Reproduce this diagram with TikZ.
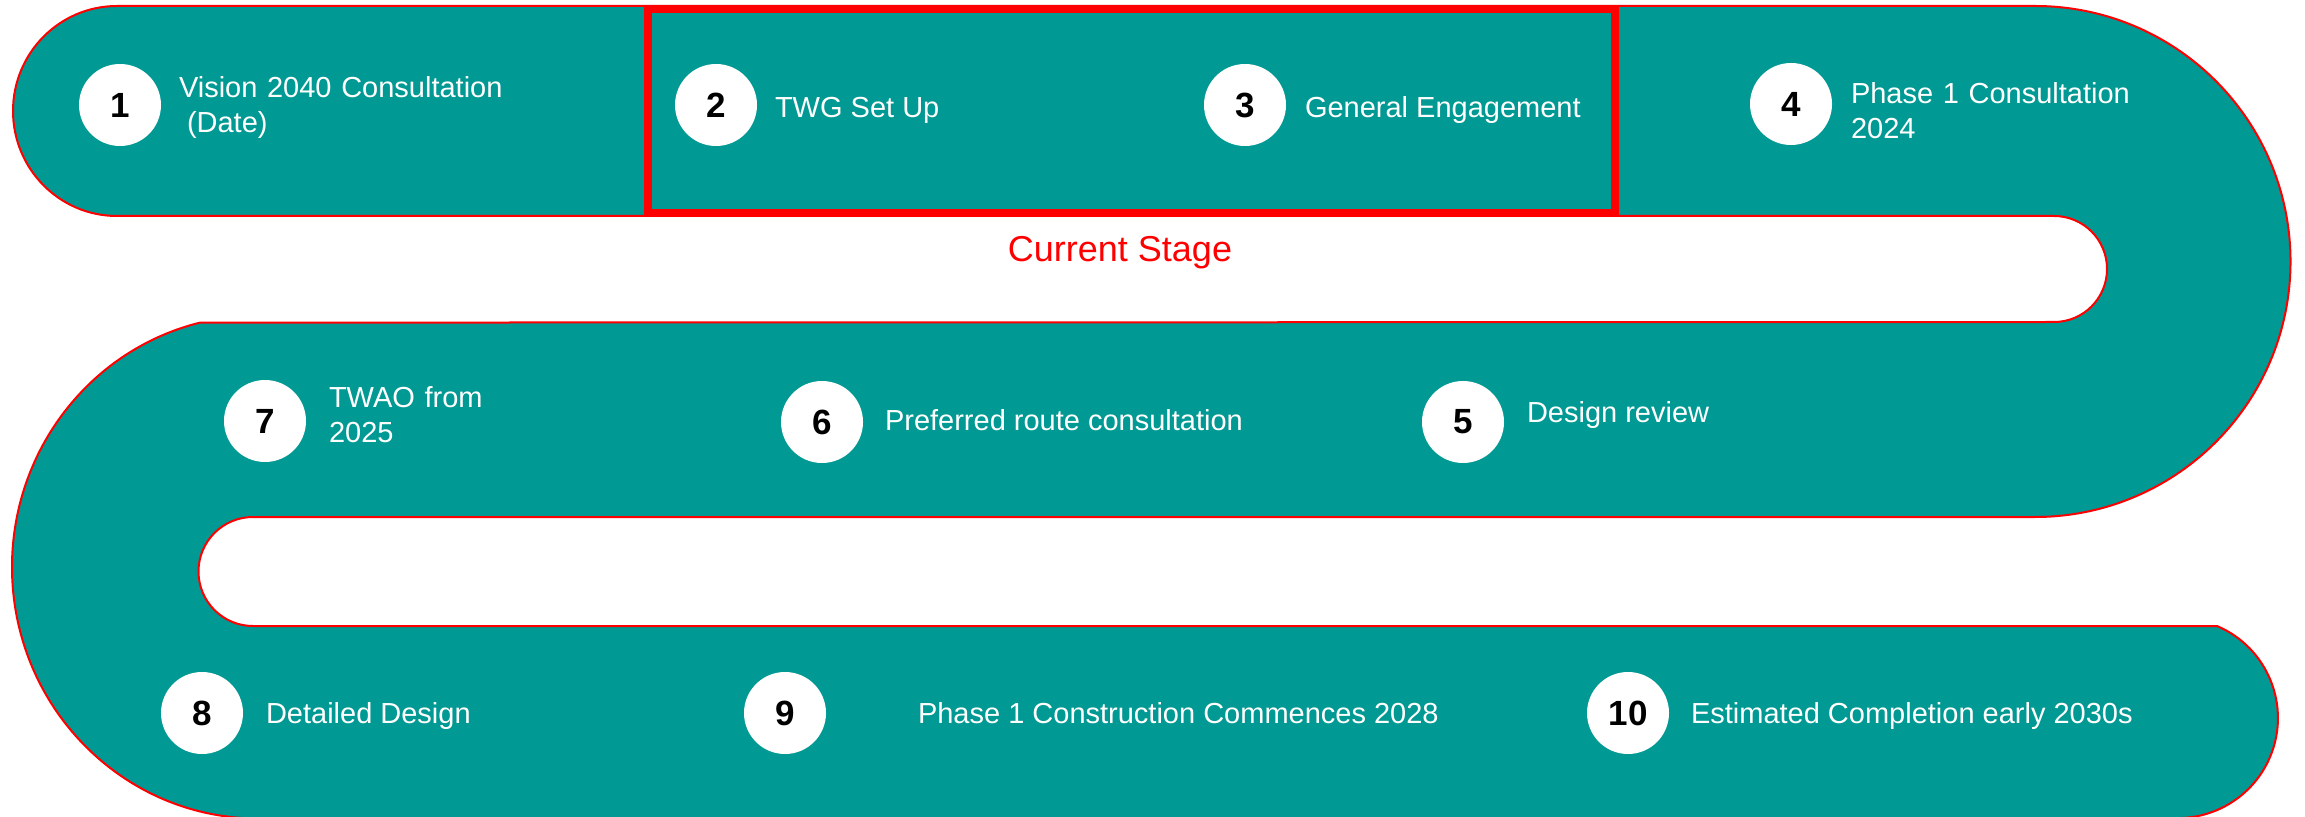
\documentclass[tikz,border=0pt]{standalone}
\usepackage{fontspec}
\setmainfont{Liberation Sans}
\definecolor{snake}{RGB}{0,153,147}
\definecolor{hot}{RGB}{255,0,0}
\begin{document}
\begin{tikzpicture}[x=0.5pt,y=-0.5pt,
  band/.style={fill=snake, draw=hot, line width=1pt, line join=round},
  num/.style={circle, fill=white, minimum size=41pt, inner sep=0pt,
    font=\fontsize{17.5}{20}\selectfont\bfseries, text=black},
  lbl/.style={anchor=base west, inner sep=0pt, outer sep=0pt, text=white,
    font=\fontsize{14.5}{17.5}\selectfont},
  lbltwo/.style={lbl, text width=300pt, align=left},
  stagebox/.style={draw=hot, line width=4pt},
  stagelbl/.style={anchor=base, inner sep=0pt, text=hot, font=\fontsize{18}{22}\selectfont}]
\useasboundingbox (0,0) rectangle (2305,817);
% snake-shaped band
\path[band] (117,6) -- (2035,6) arc[start angle=270, end angle=450, radius=255.5]
  -- (253,517) arc[start angle=270, end angle=90, radius=54.5]
  -- (2217,626) arc[start angle=293, end angle=450, radius=100]
  -- (258,818.5) arc[start angle=90, end angle=256.36, x radius=246, y radius=251.5]
  -- (2054,322) arc[start angle=90, end angle=-90, radius=53]
  -- (117,216) arc[start angle=90, end angle=270, x radius=104, y radius=105] -- cycle;
% current stage frame
\draw[stagebox] (648,9) rectangle (1615,213);
\node[stagelbl] (cs) at (1120,262) {Current Stage};
% row 1
\node[num] (c1) at (120,105) {1};
\node[lbltwo] (t1) at (179,98) {Vision 2040 Consultation\\\hspace*{4pt}(Date)};
\node[num] (c2) at (716,105) {2};
\node[lbl] (t2) at (775,118) {TWG Set Up};
\node[num] (c3) at (1245,105) {3};
\node[lbl] (t3) at (1305,118) {General Engagement};
\node[num] (c4) at (1791,104) {4};
\node[lbltwo] (t4) at (1851,104) {Phase 1 Consultation\\2024};
% row 2
\node[num] (c7) at (265,421) {7};
\node[lbltwo] (t7) at (329,408) {TWAO from\\2025};
\node[num] (c6) at (822,422) {6};
\node[lbl] (t6) at (885,430) {Preferred route consultation};
\node[num] (c5) at (1463,422) {5};
\node[lbl] (t5) at (1527,423) {Design review};
% row 3
\node[num] (c8) at (202,713) {8};
\node[lbl] (t8) at (266,723) {Detailed Design};
\node[num] (c9) at (785,713) {9};
\node[lbl] (t9) at (918,723) {Phase 1 Construction Commences 2028};
\node[num] (c10) at (1628,713) {10};
\node[lbl] (t10) at (1691,723) {Estimated Completion early 2030s};
\end{tikzpicture}
\end{document}
